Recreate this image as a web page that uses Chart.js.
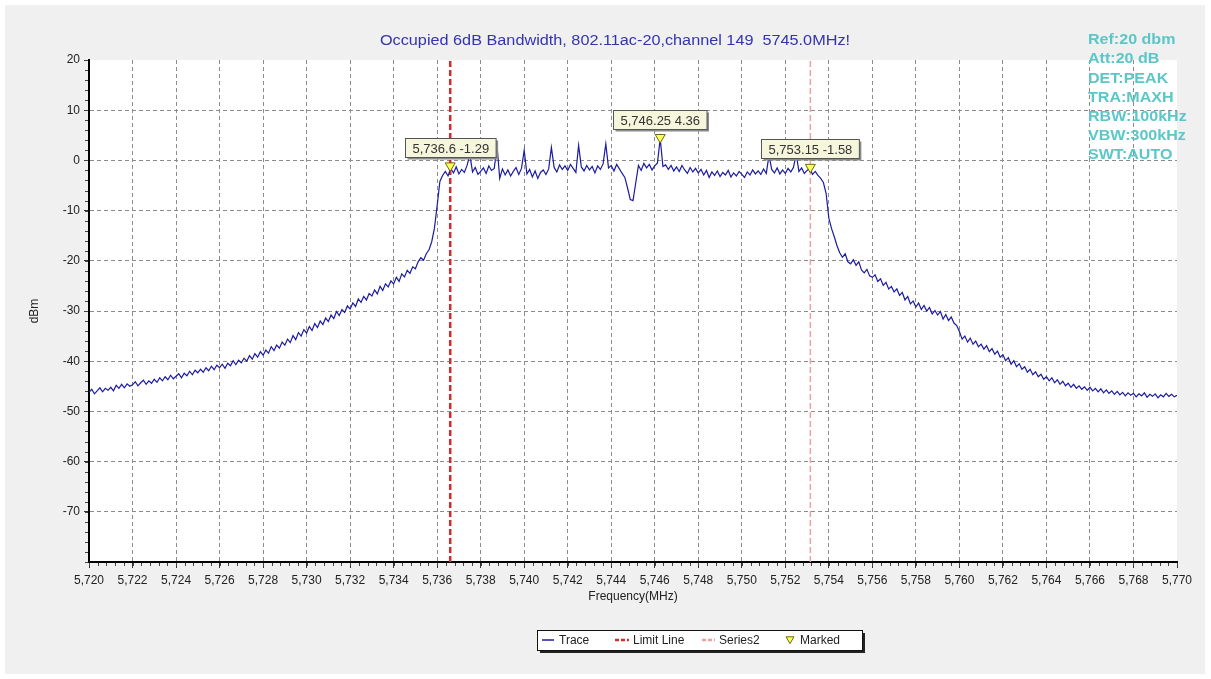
<!DOCTYPE html>
<html>
<head>
<meta charset="utf-8">
<title>Occupied 6dB Bandwidth</title>
<script src="https://cdn.jsdelivr.net/npm/chart.js@4.4.1/dist/chart.umd.min.js"></script>
<style>
  html, body { margin: 0; padding: 0; background: #fff; }
  #wrap { width: 1211px; height: 679px; }
</style>
</head>
<body>
<div id="wrap"><canvas id="bwChart" width="1211" height="679"></canvas></div>
<script>
// sweep 5720 - 5770 MHz, one reading every 0.125 MHz (8 per row = 1 MHz)
const sweepStart = 5720;
const sweepStep = 0.125;
const traceLevels = [
  -46.2, -45.6, -46.5, -45.9, -45.3, -46.1, -45.4, -45.8,
  -45.2, -45.9, -44.8, -45.4, -44.6, -45.3, -44.5, -45.0,
  -44.7, -44.1, -44.9, -44.3, -43.8, -44.6, -43.9, -44.4,
  -43.6, -44.2, -43.3, -43.9, -43.1, -43.7, -42.8, -43.5,
  -43.0, -42.5, -43.3, -42.4, -42.9, -42.0, -42.7, -41.8,
  -42.3, -41.6, -42.2, -41.3, -41.9, -41.0, -41.7, -40.8,
  -41.3, -40.6, -41.4, -40.4, -40.9, -39.9, -40.7, -39.8,
  -40.3, -39.4, -40.0, -38.9, -39.6, -38.5, -39.2, -38.1,
  -38.8, -37.8, -38.4, -37.1, -37.9, -36.8, -37.4, -36.2,
  -36.8, -35.6, -36.3, -34.9, -35.7, -34.3, -35.0, -33.7,
  -34.4, -33.1, -33.9, -32.5, -33.3, -32.0, -32.7, -31.4,
  -32.1, -30.8, -31.5, -30.1, -30.9, -29.7, -30.3, -29.0,
  -29.6, -28.4, -29.1, -27.6, -28.3, -27.1, -27.8, -26.5,
  -27.0, -25.8, -26.6, -25.1, -25.9, -24.6, -25.2, -24.0,
  -24.6, -23.3, -24.1, -22.6, -23.2, -21.9, -22.5, -21.2,
  -21.6, -20.2, -19.4, -19.9, -18.6, -17.8, -16.2, -13.5,
  -9.0, -4.2, -3.0, -2.2, -3.1, -1.6, -2.5, -1.3,
  -2.7, -1.8, -2.4, -1.0, 1.2, -2.3, -1.4, -2.8,
  -2.2, -1.5, -2.6, -1.1, -2.0, -1.6, 3.0, -3.6,
  -1.7, -2.9, -1.9, -3.1, -2.2, -1.4, -2.8, -1.6,
  2.0, -2.7, -1.8, -3.3, -2.1, -3.6, -2.4, -1.9,
  -2.8, -1.7, 2.6, -1.4, -2.3, -0.9, -1.8, -1.1,
  -2.0, -0.8, -1.6, -2.4, 3.0, -1.3, -2.1, -1.0,
  -1.9, -1.2, -2.5, -1.1, -1.8, -0.7, 3.3, -1.5,
  -1.0, -2.1, -0.8, -1.7, -2.6, -3.4, -5.5, -7.8,
  -8.0, -4.5, -1.0, -2.0, -0.6, -1.5, -0.8, -1.9,
  -1.1, -0.5, 4.36, -1.2, -0.9, -1.8, -1.0, -2.1,
  -1.3, -2.2, -1.0, -1.9, -2.6, -1.4, -2.3, -1.6,
  -2.5, -1.8, -2.9, -2.0, -3.4, -2.3, -3.0, -2.1,
  -3.2, -2.4, -2.9, -2.0, -3.3, -2.5, -3.1, -2.2,
  -2.8, -3.4, -2.3, -2.9, -1.9, -2.7, -2.1, -2.8,
  -1.7, -2.6, 1.0, -1.8, -2.5, -1.5, -2.7, -1.9,
  -2.6, -1.6, -2.3, -1.4, 1.3, -2.2, -1.5, -2.6,
  -2.0, -1.6, -2.8, -2.2, -3.0, -3.6, -4.4, -6.6,
  -11.5, -13.6, -15.2, -17.0, -18.4, -19.3, -18.6, -20.2,
  -20.6, -19.8, -20.9, -20.2, -21.8, -22.4, -21.7, -23.0,
  -23.3, -22.8, -24.1, -23.6, -24.9, -24.3, -25.6, -25.1,
  -26.2, -25.6, -26.9, -26.3, -27.8, -27.1, -28.6, -28.0,
  -29.2, -28.4, -29.7, -28.9, -30.0, -29.3, -30.6, -29.9,
  -30.8, -30.1, -31.6, -30.7, -31.9, -31.2, -32.4, -32.9,
  -34.1, -35.6, -35.0, -36.2, -35.4, -36.6, -36.0, -37.1,
  -36.6, -37.6, -36.9, -38.1, -37.5, -38.6, -38.0, -39.2,
  -38.7, -39.9, -39.3, -40.6, -39.9, -41.1, -40.5, -41.6,
  -41.1, -42.2, -41.6, -42.7, -42.1, -43.1, -42.6, -43.6,
  -43.1, -43.9, -43.3, -44.3, -43.7, -44.6, -44.0, -44.9,
  -44.4, -45.2, -44.6, -45.4, -44.9, -45.6, -45.1, -45.8,
  -45.2, -45.9, -45.4, -46.1, -45.5, -46.3, -45.7, -46.4,
  -45.9, -46.6, -46.0, -46.7, -46.2, -46.9, -46.3, -46.8,
  -46.4, -47.1, -46.5, -46.9, -46.3, -47.2, -46.6, -47.0,
  -46.5, -47.3, -46.7, -47.1, -46.4, -47.0, -46.6, -47.1,
  -46.8
];
const markerFreqs = [5736.6, 5746.25, 5753.15];
const markerLevels = [-1.29, 4.36, -1.58];
const limitFreq = 5736.6;
const series2Freq = 5753.15;
const xTickValues = [5720, 5722, 5724, 5726, 5728, 5730, 5732, 5734, 5736, 5738, 5740, 5742, 5744,
  5746, 5748, 5750, 5752, 5754, 5756, 5758, 5760, 5762, 5764, 5766, 5768, 5770];
const yTickValues = [20, 10, 0, -10, -20, -30, -40, -50, -60, -70];
const xMin = 5720, xMax = 5770, yMin = -80, yMax = 20;
const chartTitle = 'Occupied 6dB Bandwidth, 802.11ac-20,channel 149  5745.0MHz!';
const infoLines = ['Ref:20 dbm', 'Att:20 dB', 'DET:PEAK', 'TRA:MAXH', 'RBW:100kHz', 'VBW:300kHz', 'SWT:AUTO'];
const xTitle = 'Frequency(MHz)';
const yTitle = 'dBm';
const legendLabels = ['Trace', 'Limit Line', 'Series2', 'Marked'];

const FONT = '"Liberation Sans", Arial, sans-serif';
const traceColor = '#1c1ca0';
const limitColor = '#d42a2a';
const series2Color = '#f4a0a0';
const markFill = '#ffff5a';
const markEdge = '#6a6a10';

const fmtFreq = v => v.toLocaleString('en-US', { maximumFractionDigits: 2 });

function drawTriangle(ctx, x, y, r) {
    ctx.beginPath();
    ctx.moveTo(x - r, y - r * 0.8);
    ctx.lineTo(x + r, y - r * 0.8);
    ctx.lineTo(x, y + r * 0.9);
    ctx.closePath();
    ctx.fillStyle = markFill;
    ctx.fill();
    ctx.strokeStyle = markEdge;
    ctx.lineWidth = 1;
    ctx.stroke();
}

// 横向拉伸的文字（原图字体偏宽）
function wideText(ctx, text, x, y, sx) {
    ctx.save();
    ctx.translate(x, y);
    ctx.scale(sx, 1);
    ctx.fillText(text, 0, 0);
    ctx.restore();
}

// 背景：灰色面板 + 白色绘图区
const backdrop = {
    id: 'backdrop',
    beforeDraw(chart) {
        const { ctx, chartArea: a } = chart;
        ctx.save();
        ctx.fillStyle = '#ffffff';
        ctx.fillRect(0, 0, chart.width, chart.height);
        ctx.fillStyle = '#f0f0f0';
        ctx.fillRect(5, 5, chart.width - 11, chart.height - 10);
        ctx.fillStyle = '#ffffff';
        ctx.fillRect(a.left, a.top, a.right - a.left, a.bottom - a.top);
        ctx.restore();
    }
};

// 标记标签、标题、图例等
const decorations = {
    id: 'decorations',
    afterDatasetsDraw(chart) {
        const { ctx } = chart;
        const meta = chart.getDatasetMeta(3);
        ctx.save();
        ctx.font = '13px ' + FONT;
        ctx.textBaseline = 'middle';
        ctx.textAlign = 'center';
        meta.data.forEach((pt, i) => {
            drawTriangle(ctx, pt.x, pt.y, 5);
            const txt = fmtFreq(markerFreqs[i]) + ' ' + markerLevels[i];
            const w = ctx.measureText(txt).width + 14;
            const h = 19;
            const bx = Math.round(pt.x - w / 2) + 0.5;
            const by = Math.round(pt.y - 10 - h) + 0.5;
            ctx.fillStyle = '#8a8a8a';
            ctx.fillRect(bx + 2, by + 2, w, h);
            ctx.fillStyle = '#f6f6dc';
            ctx.fillRect(bx, by, w, h);
            ctx.strokeStyle = '#555';
            ctx.lineWidth = 1;
            ctx.strokeRect(bx, by, w, h);
            ctx.fillStyle = '#333';
            ctx.fillText(txt, bx + w / 2, by + h / 2 + 1);
        });
        ctx.restore();
    },
    afterDraw(chart) {
        const { ctx, chartArea: a, scales: { x, y } } = chart;
        ctx.save();

        // 次刻度
        ctx.strokeStyle = '#444';
        ctx.lineWidth = 1;
        ctx.beginPath();
        for (let v = xMin; v <= xMax + 1e-6; v += 0.4) {
            const px = Math.round(x.getPixelForValue(v)) + 0.5;
            ctx.moveTo(px, a.bottom + 1);
            ctx.lineTo(px, a.bottom + 4);
        }
        for (let v = yMin; v <= yMax + 1e-6; v += 2) {
            const py = Math.round(y.getPixelForValue(v)) + 0.5;
            ctx.moveTo(a.left - 4, py);
            ctx.lineTo(a.left - 1, py);
        }
        ctx.stroke();

        // 标题
        ctx.fillStyle = '#3434b0';
        ctx.font = '14px ' + FONT;
        ctx.textAlign = 'center';
        ctx.textBaseline = 'middle';
        wideText(ctx, chartTitle, 615, 41, 1.16);

        // 右上角仪器设置
        ctx.fillStyle = '#5cc6c8';
        ctx.font = 'bold 15px ' + FONT;
        ctx.textAlign = 'left';
        infoLines.forEach((t, i) => wideText(ctx, t, 1088, 40 + i * 19.2, 1.07));

        // 坐标轴标题
        ctx.fillStyle = '#222';
        ctx.font = '12px ' + FONT;
        ctx.textAlign = 'center';
        ctx.fillText(xTitle, (a.left + a.right) / 2, 597);
        ctx.save();
        ctx.translate(35, 311);
        ctx.rotate(-Math.PI / 2);
        ctx.fillText(yTitle, 0, 0);
        ctx.restore();

        // 图例
        const lx = 537, ly = 630, lw = 325, lh = 20, cy = ly + lh / 2;
        ctx.fillStyle = '#222';
        ctx.fillRect(lx + 3, ly + 3, lw, lh);
        ctx.fillStyle = '#fff';
        ctx.fillRect(lx, ly, lw, lh);
        ctx.strokeStyle = '#111';
        ctx.lineWidth = 1;
        ctx.strokeRect(lx + 0.5, ly + 0.5, lw, lh);

        ctx.lineWidth = 1.5;
        ctx.strokeStyle = traceColor;
        ctx.beginPath(); ctx.moveTo(542, cy); ctx.lineTo(554, cy); ctx.stroke();
        ctx.lineWidth = 2.5;
        ctx.setLineDash([4, 2]);
        ctx.strokeStyle = limitColor;
        ctx.beginPath(); ctx.moveTo(615, cy); ctx.lineTo(629, cy); ctx.stroke();
        ctx.strokeStyle = series2Color;
        ctx.beginPath(); ctx.moveTo(702, cy); ctx.lineTo(715, cy); ctx.stroke();
        ctx.setLineDash([]);
        drawTriangle(ctx, 790, cy, 4);

        ctx.fillStyle = '#222';
        ctx.font = '12px ' + FONT;
        ctx.textAlign = 'left';
        const textX = [559, 633, 719, 800];
        legendLabels.forEach((t, i) => ctx.fillText(t, textX[i], cy + 1));

        ctx.restore();
    }
};

const ctx = document.getElementById('bwChart').getContext('2d');
new Chart(ctx, {
    type: 'line',
    data: {
        datasets: [
            {
                label: legendLabels[0],
                data: traceLevels.map((v, i) => ({ x: sweepStart + i * sweepStep, y: v })),
                borderColor: traceColor,
                borderWidth: 1.2,
                pointRadius: 0,
                tension: 0
            },
            {
                label: legendLabels[1],
                data: [{ x: limitFreq, y: yMin }, { x: limitFreq, y: yMax }],
                borderColor: limitColor,
                borderWidth: 2.5,
                borderDash: [6, 3],
                pointRadius: 0
            },
            {
                label: legendLabels[2],
                data: [{ x: series2Freq, y: yMin }, { x: series2Freq, y: yMax }],
                borderColor: series2Color,
                borderWidth: 1.5,
                borderDash: [6, 3],
                pointRadius: 0
            },
            {
                label: legendLabels[3],
                type: 'scatter',
                data: markerFreqs.map((f, i) => ({ x: f, y: markerLevels[i] })),
                showLine: false,
                pointRadius: 0,
                backgroundColor: markFill,
                borderColor: markEdge
            }
        ]
    },
    options: {
        responsive: false,
        animation: false,
        layout: { padding: { left: 0, right: 34, top: 60, bottom: 0 } },
        plugins: {
            legend: { display: false },
            tooltip: { enabled: false },
            title: { display: false }
        },
        scales: {
            x: {
                type: 'linear',
                min: xMin,
                max: xMax,
                afterBuildTicks: s => { s.ticks = xTickValues.map(v => ({ value: v })); },
                afterFit: s => { s.height = 117; },
                ticks: {
                    autoSkip: false,
                    maxRotation: 0,
                    padding: 5,
                    color: '#222',
                    font: { family: FONT, size: 12 },
                    callback: v => v.toLocaleString('en-US')
                },
                grid: {
                    color: c => (c.tick && (c.tick.value === xMin || c.tick.value === xMax)) ? 'rgba(0,0,0,0)' : '#8c8c8c',
                    lineWidth: 1,
                    tickLength: 6,
                    tickColor: '#333',
                    tickBorderDash: []
                },
                border: { display: true, color: '#000', width: 2, dash: [4, 3] }
            },
            y: {
                type: 'linear',
                min: yMin,
                max: yMax,
                afterBuildTicks: s => { s.ticks = yTickValues.map(v => ({ value: v })); },
                afterFit: s => { s.width = 89; },
                ticks: {
                    padding: 4,
                    color: '#222',
                    font: { family: FONT, size: 12 },
                    callback: v => String(v)
                },
                grid: {
                    color: c => (c.tick && c.tick.value === yMax) ? 'rgba(0,0,0,0)' : '#8c8c8c',
                    lineWidth: 1,
                    tickLength: 5,
                    tickColor: '#333',
                    tickBorderDash: []
                },
                border: { display: true, color: '#000', width: 2, dash: [4, 3] }
            }
        }
    },
    plugins: [backdrop, decorations]
});
</script>
</body>
</html>
